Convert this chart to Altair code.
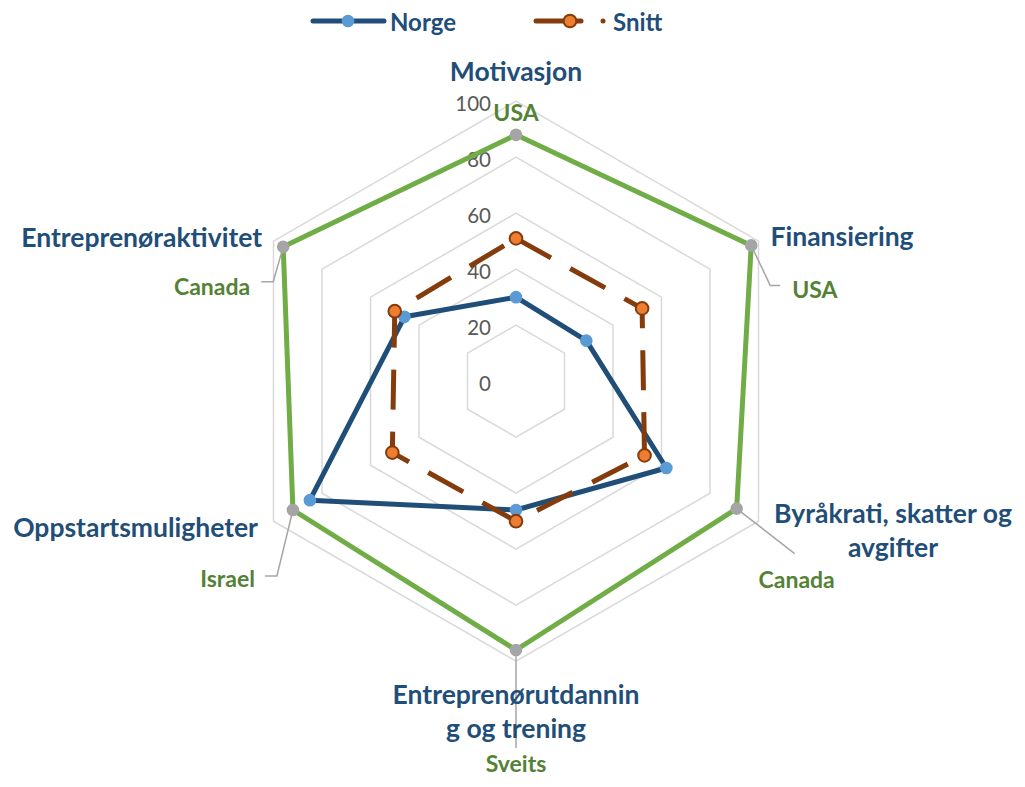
import math
import altair as alt
import pandas as pd

# ---------------- data ----------------
categories = ["Motivasjon", "Finansiering", "Byråkrati, skatter og avgifter",
              "Entreprenørutdanning og trening", "Oppstartsmuligheter", "Entreprenøraktivitet"]
category_lines = [["Motivasjon"], ["Finansiering"], ["Byråkrati, skatter og", "avgifter"],
                  ["Entreprenørutdannin", "g og trening"], ["Oppstartsmuligheter"], ["Entreprenøraktivitet"]]
norge = [30, 29, 62, 46, 85, 46]
snitt = [51, 52, 53, 50, 51, 50]
best = [88, 97, 91, 96, 92, 96]
best_country = ["USA", "USA", "Canada", "Sveits", "Israel", "Canada"]
grid_levels = [20, 40, 60, 80, 100]
tick_values = [0, 20, 40, 60, 80, 100]

# ---------------- layout / style ----------------
W, H = 1009, 769
CX, CY = 508.0, 373.2          # centre in plot pixels
K = 2.8                         # pixels per unit
XDOM = [-CX / K, (W - CX) / K]
YDOM = [-(H - CY) / K, CY / K]

NORGE_LINE, NORGE_PT = "#1F4E79", "#5B9BD5"
SNITT_LINE, SNITT_PT = "#843C0C", "#ED7D31"
BEST_LINE, BEST_PT = "#70AD47", "#A5A5A5"
GRID = "#D9D9D9"
CAT_TEXT = "#1F4E79"
COUNTRY_TEXT = "#548235"
TICK_TEXT = "#595959"
FONT = "Lato"
TDY = 3  # text vertical correction

cat_offset = [(0, -31), (12, -6), (134.5, -9.2), (0, 31.8), (-15.5, 5), (-11.5, -5.2)]
cat_align = ["center", "left", "center", "center", "right", "right"]
country_offset = [(0, -24), (41, 43), (60, 69), (0, 112), (-38, 67), (-33, 38)]
country_align = ["center", "left", "center", "center", "right", "right"]
leader_paths = [[], [(0, 0), (19, 40), (29, 40)], [(0, 0), (58, 45)], [(0, 0), (0, 98)],
                [(0, 0), (-16, 66), (-28, 66)], [(0, 0), (-10, 35), (-22, 35)]]

n = len(categories)


def ang(i):
    return i * 2 * math.pi / n


def polar(r, i, ox=0.0, oy=0.0):
    return r * math.sin(ang(i)) + ox / K, r * math.cos(ang(i)) - oy / K


xs = alt.Scale(domain=XDOM, nice=False, zero=False)
ys = alt.Scale(domain=YDOM, nice=False, zero=False)
X = alt.X("x:Q", scale=xs, axis=None)
Y = alt.Y("y:Q", scale=ys, axis=None)


def series_df(values, name):
    rows = []
    for k in range(n + 1):
        i = k % n
        rows.append({"series": name, "order": k, "value": values[i], "angle": ang(i),
                     "cat": categories[i]})
    return pd.DataFrame(rows)


calc = dict(x="datum.value * sin(datum.angle)", y="datum.value * cos(datum.angle)")

# grid hexagons
grid_rows = []
for lv in grid_levels:
    for k in range(n + 1):
        grid_rows.append({"level": lv, "order": k, "value": lv, "angle": ang(k % n)})
grid = alt.Chart(pd.DataFrame(grid_rows)).transform_calculate(**calc).mark_line(
    color=GRID, strokeWidth=1.5).encode(x=X, y=Y, order="order:Q", detail="level:N")

ticks = alt.Chart(pd.DataFrame({"value": tick_values, "label": [str(t) for t in tick_values]})).transform_calculate(
    x="0", y="datum.value").mark_text(align="right", baseline="middle", dx=-25, dy=TDY + 1,
                                      font=FONT, fontSize=20.5, color=TICK_TEXT).encode(x=X, y=Y, text="label:N")


def radar(values, name, lcolor, pfill, pstroke=None, dash=None):
    df = series_df(values, name)
    lkw = dict(color=lcolor, strokeWidth=5, strokeJoin="round")
    if dash:
        lkw["strokeDash"] = dash
    line = alt.Chart(df).transform_calculate(**calc).mark_line(**lkw).encode(x=X, y=Y, order="order:Q")
    pkw = dict(filled=True, fill=pfill, size=160, opacity=1)
    if pstroke:
        pkw.update(stroke=pstroke, strokeWidth=2)
    else:
        pkw.update(strokeWidth=0)
    pts = alt.Chart(df[df["order"] < n]).transform_calculate(**calc).mark_point(**pkw).encode(x=X, y=Y)
    return line, pts


n_line, n_pts = radar(norge, "Norge", NORGE_LINE, NORGE_PT)
s_line, s_pts = radar(snitt, "Snitt", SNITT_LINE, SNITT_PT, pstroke=SNITT_LINE, dash=[40, 22])
b_line, b_pts = radar(best, "Beste", BEST_LINE, BEST_PT)

# leader lines
lead_rows = []
for i, path in enumerate(leader_paths):
    for j, (ox, oy) in enumerate(path):
        x, y = polar(best[i], i, ox, oy)
        lead_rows.append({"cat": categories[i], "seq": j, "x": x, "y": y})
leaders = alt.Chart(pd.DataFrame(lead_rows)).mark_line(color="#A6A6A6", strokeWidth=1.5).encode(
    x=X, y=Y, order="seq:Q", detail="cat:N")

# category labels
cat_rows = []
for i in range(n):
    x, y = polar(100, i, *cat_offset[i])
    cat_rows.append({"x": x, "y": y, "text": category_lines[i], "align": cat_align[i]})
cat_df = pd.DataFrame(cat_rows)
cat_layers = []
for a in ["left", "center", "right"]:
    sub = cat_df[cat_df["align"] == a]
    cat_layers.append(alt.Chart(sub).mark_text(align=a, baseline="middle", font=FONT, fontSize=26.5,
                                               fontWeight="bold", color=CAT_TEXT, lineHeight=34,
                                               dy=TDY).encode(x=X, y=Y, text="text"))

# country labels
c_rows = []
for i in range(n):
    x, y = polar(best[i], i, *country_offset[i])
    c_rows.append({"x": x, "y": y, "text": best_country[i], "align": country_align[i]})
c_df = pd.DataFrame(c_rows)
c_layers = []
for a in ["left", "center", "right"]:
    sub = c_df[c_df["align"] == a]
    c_layers.append(alt.Chart(sub).mark_text(align=a, baseline="middle", font=FONT, fontSize=23,
                                             fontWeight="bold", color=COUNTRY_TEXT, dy=TDY).encode(
        x=X, y=Y, text="text:N"))

# legend (manual, top)
LY = 13
LFS = 24
one = alt.Data(values=[{"k": 1}])
leg = [
    alt.Chart(one).mark_rule(color=NORGE_LINE, strokeWidth=5, strokeCap="round").encode(
        x=alt.value(305), x2=alt.value(376), y=alt.value(LY)),
    alt.Chart(one).mark_point(filled=True, fill=NORGE_PT, size=160, opacity=1, strokeWidth=0).encode(
        x=alt.value(340), y=alt.value(LY)),
    alt.Chart(one).mark_text(align="left", baseline="middle", font=FONT, fontSize=LFS, fontWeight="bold",
                             color=CAT_TEXT, dy=TDY).encode(x=alt.value(382), y=alt.value(LY),
                                                           text=alt.value("Norge")),
    alt.Chart(one).mark_rule(color=SNITT_LINE, strokeWidth=5, strokeCap="round").encode(
        x=alt.value(528), x2=alt.value(573), y=alt.value(LY)),
    alt.Chart(one).mark_point(filled=True, fill=SNITT_LINE, size=25, opacity=1, strokeWidth=0).encode(
        x=alt.value(595), y=alt.value(LY)),
    alt.Chart(one).mark_point(filled=True, fill=SNITT_PT, size=160, opacity=1, stroke=SNITT_LINE,
                              strokeWidth=2).encode(x=alt.value(562), y=alt.value(LY)),
    alt.Chart(one).mark_text(align="left", baseline="middle", font=FONT, fontSize=LFS, fontWeight="bold",
                             color=CAT_TEXT, dy=TDY).encode(x=alt.value(605), y=alt.value(LY),
                                                           text=alt.value("Snitt")),
]

chart = alt.layer(
    grid, ticks, n_line, n_pts, s_line, s_pts, b_line, leaders, b_pts,
    *cat_layers, *c_layers, *leg
).properties(
    width=W, height=H, padding=0, autosize=alt.AutoSizeParams(type="none"), background="white"
).configure_view(stroke=None)

chart.save("out.html", embed_options={"renderer": "svg", "actions": False})
